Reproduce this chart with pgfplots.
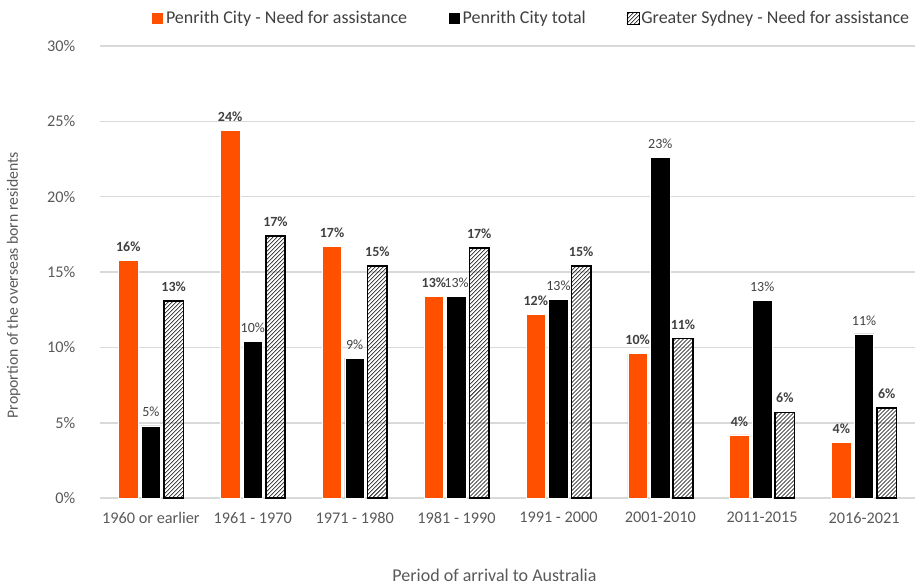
\documentclass[border=0pt]{standalone}
\usepackage{pgfplots}
\pgfplotsset{compat=1.18}
\usepackage{fontspec}
\setmainfont{Carlito}
\usetikzlibrary{patterns}
\definecolor{orng}{HTML}{FF5000}
\definecolor{tickgray}{HTML}{595959}
\definecolor{lblgray}{HTML}{404040}
\definecolor{gridgray}{HTML}{D9D9D9}
\begin{document}
\begin{tikzpicture}
\begin{axis}[
  scale only axis,
  width=611pt, height=339pt,
  ybar=2.4pt, bar width=14.6pt,
  xmin=-0.5, xmax=7.5,
  ymin=0, ymax=30,
  xtick={0,...,7},
  xticklabels={1960 or earlier,1961 - 1970,1971 - 1980,1981 - 1990,1991 - 2000,2001-2010,2011-2015,2016-2021},
  ytick={0,5,...,30},
  yticklabel={\pgfmathprintnumber{\tick}\%},
  /pgf/number format/assume math mode=true,
  ymajorgrids,
  grid style={gridgray, line width=1.1pt},
  axis line style={draw=none},
  major tick length=0pt,
  tick label style={font=\fontsize{12.2}{15}\selectfont, text=tickgray},
  xticklabel style={yshift=-7pt},
  yticklabel style={xshift=-15pt},
  clip=false,
  ylabel={Proportion of the overseas born residents},
  xlabel={Period of arrival to Australia},
  label style={font=\fontsize{13.5}{16}\selectfont, text=tickgray},
  ylabel style={at={(axis description cs:-0.106,0.471)}, anchor=center, rotate=0, font=\fontsize{11.8}{14}\selectfont},
  xlabel style={at={(axis description cs:0.484,-0.170)}, anchor=center},
  nodes near coords={\pgfmathprintnumber[fixed,precision=0]{\pgfplotspointmeta}\%},
  nodes near coords style={font=\fontsize{10.5}{12}\selectfont, text=lblgray, yshift=3pt},
  legend columns=3,
  legend style={at={(axis description cs:0.529,1.061)}, anchor=center, draw=none, fill=none,
    font=\fontsize{13.5}{16}\selectfont, text=lblgray, inner sep=0pt,
    /tikz/every even column/.append style={column sep=29pt},
    /tikz/every odd column/.append style={column sep=0pt},
    nodes={inner xsep=1.5pt}},
  legend image code/.code={\draw[#1, line width=0.6pt] (0pt,-4.5pt) rectangle (9pt,4.5pt);},
]
\addplot[fill=orng, draw=white, line width=0.5pt, nodes near coords style={font=\fontsize{10.5}{12}\selectfont\bfseries}] coordinates {
(0,15.8) (1,24.4) (2,16.7) (3,13.4) (4,12.2) (5,9.6) (6,4.2) (7,3.7)};
\addlegendentry{Penrith City - Need for assistance}
\addplot[fill=black, draw=white, line width=0.5pt] coordinates {
(0,4.8) (1,10.4) (2,9.3) (3,13.4) (4,13.2) (5,22.6) (6,13.1) (7,10.9)};
\addlegendentry{Penrith City total}
\addplot[pattern=north east lines, draw=black, line width=1.2pt, nodes near coords style={font=\fontsize{10.5}{12}\selectfont\bfseries}] coordinates {
(0,13.1) (1,17.4) (2,15.4) (3,16.6) (4,15.4) (5,10.6) (6,5.7) (7,6.0)};
\addlegendentry{Greater Sydney - Need for assistance}
\path (axis description cs:-0.1227,1.1018) rectangle (axis description cs:1.00245,-0.1947);
\end{axis}
\end{tikzpicture}
\end{document}
